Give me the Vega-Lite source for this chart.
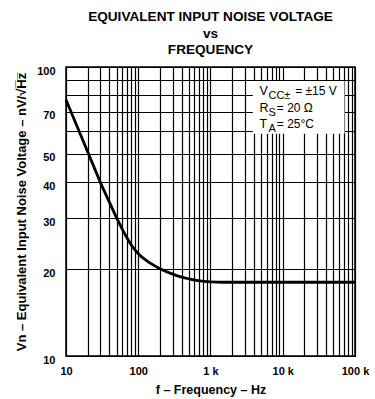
{
  "$schema": "https://vega.github.io/schema/vega-lite/v6.json",
  "width": 289,
  "height": 289,
  "autosize": {"type": "none"},
  "padding": {"left": 66, "top": 67, "right": 20, "bottom": 43},
  "background": "white",
  "config": {
    "font": "Liberation Sans",
    "view": {"stroke": "black", "strokeWidth": 1.5},
    "axis": {
      "grid": true,
      "gridColor": "black",
      "gridOpacity": 1,
      "gridWidth": 1.2,
      "ticks": false,
      "domain": false,
      "labelFont": "Liberation Sans",
      "labelFontWeight": "bold",
      "labelFontSize": 11,
      "labelColor": "black",
      "labelFlush": false,
      "labelOverlap": false,
      "titleFont": "Liberation Sans",
      "titleFontWeight": "bold",
      "titleFontSize": 12.5,
      "titleColor": "black"
    }
  },
  "title": {
    "text": ["EQUIVALENT INPUT NOISE VOLTAGE", "vs", "FREQUENCY"],
    "font": "Liberation Sans",
    "fontSize": 13.6,
    "fontWeight": "bold",
    "color": "black",
    "lineHeight": 16.5,
    "anchor": "middle",
    "offset": 8
  },
  "datasets": {
    "curve": [
      {"f": 10, "vn": 77},
      {"f": 12, "vn": 69},
      {"f": 15, "vn": 60.4},
      {"f": 20, "vn": 50.8},
      {"f": 25, "vn": 44.4},
      {"f": 30, "vn": 39.8},
      {"f": 40, "vn": 34},
      {"f": 50, "vn": 30.1},
      {"f": 60, "vn": 27.5},
      {"f": 70, "vn": 25.6},
      {"f": 80, "vn": 24.2},
      {"f": 100, "vn": 22.6},
      {"f": 130, "vn": 21.4},
      {"f": 170, "vn": 20.5},
      {"f": 200, "vn": 20.05},
      {"f": 300, "vn": 19.2},
      {"f": 400, "vn": 18.75},
      {"f": 500, "vn": 18.5},
      {"f": 700, "vn": 18.2},
      {"f": 1000, "vn": 18.05},
      {"f": 1500, "vn": 18},
      {"f": 100000, "vn": 18}
    ]
  },
  "layer": [
    {
      "data": {"name": "curve"},
      "mark": {"type": "line", "color": "black", "strokeWidth": 2.8, "interpolate": "monotone"},
      "encoding": {
        "x": {
          "field": "f",
          "type": "quantitative",
          "scale": {"type": "log", "domain": [10, 100000]},
          "axis": {
            "title": "f – Frequency – Hz",
            "values": [10, 20, 30, 40, 50, 60, 70, 80, 90, 100, 200, 300, 400, 500, 600, 700, 800, 900, 1000, 2000, 3000, 4000, 5000, 6000, 7000, 8000, 9000, 10000, 20000, 30000, 40000, 50000, 60000, 70000, 80000, 90000, 100000],
            "labelExpr": "datum.value == 10 ? '10' : datum.value == 100 ? '100' : datum.value == 1000 ? '1 k' : datum.value == 10000 ? '10 k' : datum.value == 100000 ? '100 k' : ''",
            "labelPadding": 9,
            "titlePadding": 7
          }
        },
        "y": {
          "field": "vn",
          "type": "quantitative",
          "scale": {"type": "log", "domain": [10, 100]},
          "axis": {
            "title": "Vn – Equivalent Input Noise Voltage – nV/√H̅z̅",
            "titleFontSize": 13,
            "values": [10, 20, 30, 40, 50, 60, 70, 80, 90, 100],
            "labelExpr": "(datum.value == 60 || datum.value == 80 || datum.value == 90) ? '' : datum.label",
            "labelPadding": 11,
            "labelOffset": 4,
            "titlePadding": 8
          }
        }
      }
    },
    {
      "data": {"values": [{"box": "conditions"}]},
      "mark": {"type": "rect", "color": "white", "opacity": 1},
      "encoding": {
        "x": {"datum": 3854, "type": "quantitative"},
        "x2": {"datum": 71600},
        "y": {"datum": 89.5, "type": "quantitative"},
        "y2": {"datum": 58.7}
      }
    },
    {
      "data": {"values": [{"t": "V\nR\nT"}]},
      "mark": {"type": "text", "lineBreak": "\n", "lineHeight": 16.2, "align": "left", "baseline": "alphabetic", "fontSize": 12.5, "color": "black", "font": "Liberation Sans"},
      "encoding": {
        "x": {"datum": 4756, "type": "quantitative"},
        "y": {"datum": 79.8, "type": "quantitative"},
        "text": {"field": "t"}
      }
    },
    {
      "data": {"values": [{"t": "CC±\nS\nA"}]},
      "mark": {"type": "text", "lineBreak": "\n", "lineHeight": 16.2, "align": "left", "baseline": "alphabetic", "fontSize": 11, "color": "black", "font": "Liberation Sans"},
      "encoding": {
        "x": {"datum": 6340, "type": "quantitative"},
        "y": {"datum": 77.3, "type": "quantitative"},
        "text": {"field": "t"}
      }
    },
    {
      "data": {"values": [{"t": "= ±15 V"}]},
      "mark": {"type": "text", "align": "left", "baseline": "alphabetic", "fontSize": 12, "color": "black", "font": "Liberation Sans"},
      "encoding": {
        "x": {"datum": 14860, "type": "quantitative"},
        "y": {"datum": 79.8, "type": "quantitative"},
        "text": {"field": "t"}
      }
    },
    {
      "data": {"values": [{"t": "= 20 Ω\n= 25°C"}]},
      "mark": {"type": "text", "lineBreak": "\n", "lineHeight": 16.2, "align": "left", "baseline": "alphabetic", "fontSize": 12, "color": "black", "font": "Liberation Sans"},
      "encoding": {
        "x": {"datum": 8280, "type": "quantitative"},
        "y": {"datum": 70.0, "type": "quantitative"},
        "text": {"field": "t"}
      }
    }
  ]
}
